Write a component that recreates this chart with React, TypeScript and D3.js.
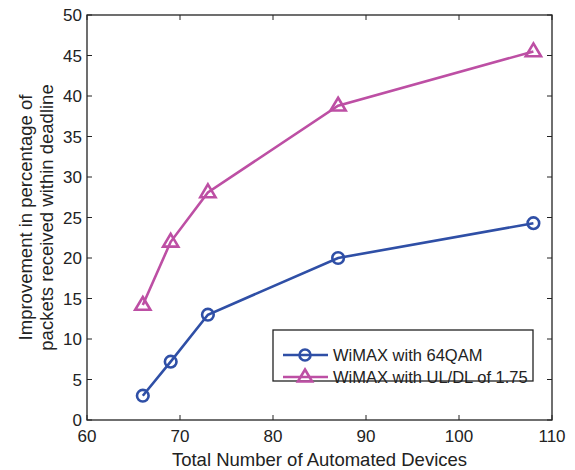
import React from 'react';
import * as d3 from 'd3';

const devices = [66, 69, 73, 87, 108];
const qam64 = [3, 7.2, 13, 20, 24.3];
const ulDl175 = [14.2, 22, 28.1, 38.8, 45.5];
const xTicks = [60, 70, 80, 90, 100, 110];
const yTicks = [0, 5, 10, 15, 20, 25, 30, 35, 40, 45, 50];
const seriesNames = ['WiMAX with 64QAM', 'WiMAX with UL/DL of 1.75'];

const BLUE = '#2f4fa6';
const MAGENTA = '#bd4fa4';
const INK = '#222';
const FONT = '"Liberation Sans", Arial, Helvetica, sans-serif';

const App: React.FC = () => {
    const W = 575, H = 470;
    const left = 87, right = 552, top = 15, bottom = 420;

    const x = d3.scaleLinear().domain([60, 110]).range([left, right]);
    const y = d3.scaleLinear().domain([0, 50]).range([bottom, top]);

    const line = d3.line<number>()
        .x((_, i) => x(devices[i]))
        .y(d => y(d));

    // open triangle marker centred on the point
    const tri = (cx: number, cy: number, s = 8) =>
        `M${cx},${cy - s} L${cx + s * 0.95},${cy + s * 0.6} L${cx - s * 0.95},${cy + s * 0.6} Z`;

    const tickLen = 5;

    return (
        <svg width={W} height={H} style={{ position: 'absolute', left: 0, top: 0, background: '#fff' }} fontFamily={FONT}>
            {/* ticks */}
            {xTicks.map(t => (
                <g key={'x' + t}>
                    <line x1={x(t)} x2={x(t)} y1={bottom} y2={bottom - tickLen} stroke={INK} />
                    <line x1={x(t)} x2={x(t)} y1={top} y2={top + tickLen} stroke={INK} />
                    <text x={x(t)} y={bottom + 22} textAnchor="middle" fontSize={17} fill={INK}>{t}</text>
                </g>
            ))}
            {yTicks.map(t => (
                <g key={'y' + t}>
                    <line x1={left} x2={left + tickLen} y1={y(t)} y2={y(t)} stroke={INK} />
                    <line x1={right} x2={right - tickLen} y1={y(t)} y2={y(t)} stroke={INK} />
                    <text x={left - 5} y={y(t)} dy="0.36em" textAnchor="end" fontSize={17} fill={INK}>{t}</text>
                </g>
            ))}
            <rect x={left} y={top} width={right - left} height={bottom - top} fill="none" stroke={INK} strokeWidth={1.3} />

            {/* series */}
            <path d={line(qam64) || ''} fill="none" stroke={BLUE} strokeWidth={2.6} />
            {qam64.map((v, i) => (
                <circle key={'c' + i} cx={x(devices[i])} cy={y(v)} r={5.8} fill="none" stroke={BLUE} strokeWidth={2.6} />
            ))}
            <path d={line(ulDl175) || ''} fill="none" stroke={MAGENTA} strokeWidth={2.6} />
            {ulDl175.map((v, i) => (
                <path key={'t' + i} d={tri(x(devices[i]), y(v))} fill="none" stroke={MAGENTA} strokeWidth={2.6} />
            ))}

            {/* legend */}
            <g>
                <rect x={273} y={330} width={260} height={51} fill="#fff" stroke={INK} strokeWidth={1.3} />
                <line x1={283} x2={328} y1={355} y2={355} stroke={BLUE} strokeWidth={2.6} />
                <circle cx={305} cy={355} r={5.5} fill="none" stroke={BLUE} strokeWidth={2.6} />
                <text x={333} y={355} dy="0.36em" fontSize={16.5} fill={INK}>{seriesNames[0]}</text>
                <line x1={283} x2={328} y1={377} y2={377} stroke={MAGENTA} strokeWidth={2.6} />
                <path d={tri(305, 377, 7.5)} fill="none" stroke={MAGENTA} strokeWidth={2.6} />
                <text x={333} y={377} dy="0.36em" fontSize={16.5} fill={INK}>{seriesNames[1]}</text>
            </g>

            {/* axis labels */}
            <text x={(left + right) / 2} y={466} textAnchor="middle" fontSize={18.5} fill={INK}>Total Number of Automated Devices</text>
            <g transform={`translate(32, ${(top + bottom) / 2}) rotate(-90)`}>
                <text x={0} y={0} textAnchor="middle" fontSize={18.5} fill={INK}>Improvement in percentage of</text>
                <text x={0} y={21} textAnchor="middle" fontSize={18.5} fill={INK}>packets received within deadline</text>
            </g>
        </svg>
    );
};

export default App;
